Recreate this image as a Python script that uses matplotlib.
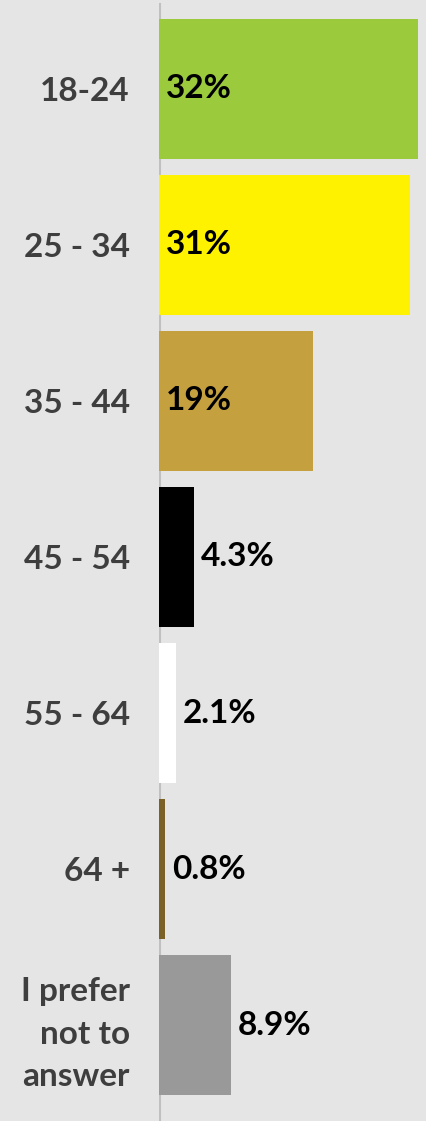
import matplotlib
matplotlib.use('Agg')
import matplotlib.pyplot as plt

categories = ['18-24', '25 - 34', '35 - 44', '45 - 54', '55 - 64', '64 +', 'I prefer\nnot to\nanswer']
values = [32, 31, 19, 4.3, 2.1, 0.8, 8.9]
value_labels = ['32%', '31%', '19%', '4.3%', '2.1%', '0.8%', '8.9%']
colors = ['#9bca3c', '#fff200', '#c4a03f', '#000000', '#ffffff', '#7a6128', '#999999']

bg = '#e5e5e5'
plt.rcParams['font.family'] = ['Lato', 'DejaVu Sans']
plt.rcParams['font.weight'] = 'bold'

W, H = 426, 1121
fig = plt.figure(figsize=(W / 100, H / 100), dpi=100, facecolor=bg)
ax = fig.add_axes([159 / W, 0, (W - 159) / W, 1])
ax.set_facecolor(bg)

ypos = list(range(len(categories)))
ax.barh(ypos, values, height=0.9, color=colors, edgecolor='none')

for y, v, lab in zip(ypos, values, value_labels):
    # big bars get the label inside, small ones just past the end
    x0 = 0 if v > 10 else v
    ax.annotate(lab, (x0, y), xytext=(5, 0), textcoords='offset points',
                ha='left', va='center', fontsize=24, fontweight='bold', color='black')

ax.set_xlim(0, 33)
ax.set_ylim(6.615, -0.57)
ax.set_yticks(ypos)
ax.set_yticklabels(categories, fontsize=24, fontweight='bold', color='#3e3e3e',
                   linespacing=1.55)
ax.tick_params(axis='y', length=0, pad=21)
ax.set_xticks([])
for s in ax.spines.values():
    s.set_visible(False)
ax.axvline(0, ymin=0, ymax=1 - 4 / H, color='#c0c0c0', linewidth=2.2, zorder=0)

fig.savefig('out.png', dpi=100, facecolor=bg)
